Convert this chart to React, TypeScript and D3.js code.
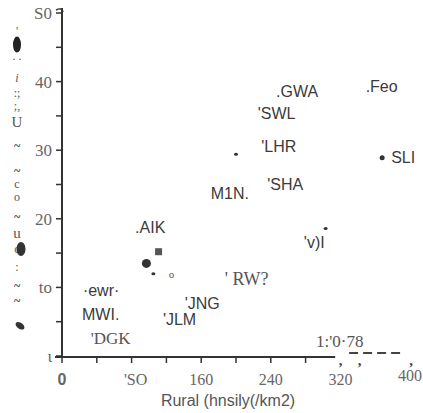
import React from 'react'
import * as d3 from 'd3'

// labelled districts (rural density, y value)
const names = ['.GWA', '.Feo', "'SWL", "'LHR", "'SHA", 'M1N.', '.AIK', "'v)I", '·ewr·', 'MWI.', "'JNG", "'JLM"]
const xs = [246, 349, 225, 229, 236, 171, 84, 278, 24, 23, 141, 116]
const ys = [38.6, 39.3, 35.4, 30.6, 25.0, 23.7, 18.7, 16.5, 9.5, 6.1, 7.7, 5.4]

// serif-set labels from the scan
const serifNames = ["' RW?", "'DGK", '1:\'0·78']
const serifXs = [187, 33, 292]
const serifYs = [11.3, 2.6, 2.2]

// loose marks
const dotXs = [368, 200, 303, 105]
const dotYs = [28.9, 29.4, 18.6, 12.0]
const bigDot = [97, 13.5]
const square = [111, 15.2]
const ring = [126, 12.0]

const yTicks = [50, 40, 30, 20, 10, 0]
const yTickLabels = ['S0', '40', '30', '20', 'to', 'ι']
const yMinor = [45, 35, 25, 15, 5]
const xTicks = [0, 80, 160, 240, 320, 400]
const xTickLabels = ['0', "'SO", '160', '240', '320', '400']
const xMinor = [40, 120, 200, 280]

// scanned vertical title remnants (glyph, y value)
const sideChars = ["'", '. .', 'i', ':;', ';,', 'U', '~', '~', 'c', 'o', '~', 'u', 'c', ':', '~', '~']
const sideYs = [47.4, 43.7, 40.6, 38.3, 36.4, 34.1, 30.6, 27.0, 25.1, 23.2, 20.3, 18.0, 15.6, 13.0, 10.3, 8.0]

export default function App() {
  const W = 423
  const H = 413
  const x = d3.scaleLinear().domain([0, 400]).range([62, 410])
  const y = d3.scaleLinear().domain([0, 50]).range([356, 13])
  const ink = '#3b3b3b'
  const sans = 'Liberation Sans, Arial, sans-serif'
  const serif = 'Liberation Serif, Times New Roman, serif'

  return (
    <div style={{ position: 'absolute', left: 0, top: 0 }}>
      <svg width={W} height={H} style={{ display: 'block', background: '#fff' }}>
        {/* y axis */}
        <line x1={62} x2={62} y1={8} y2={358} stroke="#333" strokeWidth={2} />
        <path d="M56,10 Q62,7 63,12" fill="none" stroke="#333" strokeWidth={1.5} />
        {yTicks.map((t, i) => (
          <g key={'yt' + i}>
            <line x1={56} x2={62} y1={y(t)} y2={y(t)} stroke="#333" strokeWidth={1.5} />
            <text x={52} y={y(t)} dy="0.35em" textAnchor="end" fontFamily={serif} fontSize={17} fill="#666">
              {yTickLabels[i]}
            </text>
          </g>
        ))}
        {yMinor.map((t) => (
          <line key={'ym' + t} x1={56} x2={62} y1={y(t)} y2={y(t)} stroke="#333" strokeWidth={1.5} />
        ))}

        {/* x axis: solid then broken */}
        <line x1={55} x2={x(314)} y1={357} y2={357} stroke="#333" strokeWidth={2} />
        <line x1={x(330)} x2={x(392)} y1={353} y2={353} stroke="#444" strokeWidth={2} strokeDasharray="9,5" />
        {[318, 340, 399].map((v) => (
          <text key={'cm' + v} x={x(v)} y={365} fontFamily={serif} fontSize={15} fontWeight="bold" fill="#444">,</text>
        ))}
        {xTicks.concat(xMinor).map((t) => t <= 300 && (
          <line key={'xt' + t} x1={x(t)} x2={x(t)} y1={357} y2={363} stroke="#333" strokeWidth={1.5} />
        ))}
        {xTickLabels.map((l, i) => (
          <text key={'xl' + i} x={x(xTicks[i]) + (i === 1 ? 4 : 0)} y={i === 5 ? 381 : 385} textAnchor="middle"
            fontFamily={i === 0 ? sans : serif} fontWeight={i === 0 ? 'bold' : 'normal'} fontSize={16} fill="#666">
            {l}
          </text>
        ))}
        <text x={228} y={406} textAnchor="middle" fontFamily={sans} fontSize={16} fill="#555">
          Rural  (hnsily(/km2)
        </text>

        {/* left strip */}
        {sideChars.map((c, i) => (
          <text key={'sc' + i} x={17} y={y(sideYs[i])} dy="0.35em" textAnchor="middle" fontFamily={serif}
            fontSize={c === 'U' || c === 'u' ? 15 : 12} fontStyle={c === 'i' ? 'italic' : 'normal'}
            fontWeight={c === '~' ? 'bold' : 'normal'} fill="#555">
            {c}
          </text>
        ))}
        <ellipse cx={17} cy={y(45.4)} rx={4} ry={8} fill="#222" />
        <ellipse cx={21} cy={y(15.6)} rx={4.5} ry={7} fill="#333" />
        <ellipse cx={20} cy={y(4.4)} rx={5} ry={3} fill="#333" transform={`rotate(35 20 ${y(4.4)})`} />

        {/* marks */}
        {dotXs.map((v, i) => (
          <ellipse key={'d' + i} cx={x(v)} cy={y(dotYs[i])} rx={i === 0 ? 2.5 : 2} ry={i === 0 ? 2.5 : 1.5} fill="#333" />
        ))}
        <circle cx={x(bigDot[0])} cy={y(bigDot[1])} r={4.5} fill="#333" />
        <rect x={x(square[0]) - 3.5} y={y(square[1]) - 3.5} width={7} height={7} fill="#555" />
        <text x={x(ring[0])} y={y(ring[1])} dy="0.35em" textAnchor="middle" fontFamily={serif} fontSize={11} fill="#555">o</text>

        {/* labels */}
        {names.map((n, i) => (
          <text key={'n' + i} x={x(xs[i])} y={y(ys[i])} dy="0.35em" fontFamily={sans} fontSize={16} fill={ink}>
            {n}
          </text>
        ))}
        <text x={x(dotXs[0]) + 9} y={y(dotYs[0])} dy="0.35em" fontFamily={sans} fontSize={16} fill={ink}>SLI</text>
        {serifNames.map((n, i) => (
          <text key={'s' + i} x={x(serifXs[i])} y={y(serifYs[i])} dy="0.35em" fontFamily={serif}
            fontSize={i === 0 ? 18 : 17} fill="#555">
            {n}
          </text>
        ))}
      </svg>
    </div>
  )
}
